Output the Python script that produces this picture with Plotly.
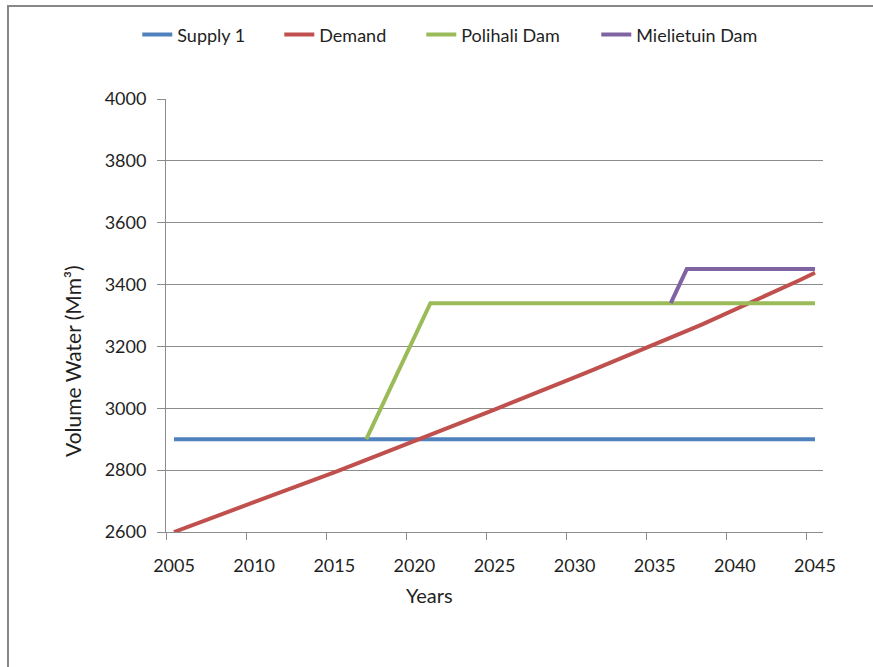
import plotly.graph_objects as go

# Years on the horizontal axis
years = list(range(2005, 2046))

# Existing supply (Mm³), constant over the period
supply_years = [2005, 2045]
supply_values = [2900, 2900]

# Projected water demand per year (Mm³)
demand_values = [
    2600, 2619, 2638, 2657, 2676, 2695, 2715, 2734, 2754, 2773,
    2793, 2813, 2833, 2853, 2873, 2893, 2913, 2934, 2954, 2975,
    2996, 3017, 3037, 3058, 3079, 3100, 3121, 3142, 3163, 3184,
    3206, 3228, 3250, 3272, 3295, 3318, 3341, 3365, 3389, 3413,
    3438,
]

# Supply after Polihali Dam comes online
polihali_years = [2017, 2021, 2045]
polihali_values = [2900, 3340, 3340]

# Supply after Mielietuin Dam comes online
mielietuin_years = [2036, 2037, 2045]
mielietuin_values = [3340, 3450, 3450]

x_ticks = [2005, 2010, 2015, 2020, 2025, 2030, 2035, 2040, 2045]
y_ticks = [2600, 2800, 3000, 3200, 3400, 3600, 3800, 4000]

FONT = "Lato"
TEXT = "#1f1f1f"
GRID = "#8c8c8c"

fig = go.Figure()
fig.add_trace(go.Scatter(x=supply_years, y=supply_values, mode="lines",
                         name="Supply 1", legendwidth=97,
                         line=dict(color="#4F81BD", width=4)))
fig.add_trace(go.Scatter(x=years, y=demand_values, mode="lines",
                         name="Demand", legendwidth=97,
                         line=dict(color="#C0504D", width=4)))
fig.add_trace(go.Scatter(x=polihali_years, y=polihali_values, mode="lines",
                         name="Polihali Dam", legendwidth=130,
                         line=dict(color="#9BBB59", width=4)))
fig.add_trace(go.Scatter(x=mielietuin_years, y=mielietuin_values, mode="lines",
                         name="Mielietuin Dam", legendwidth=130,
                         line=dict(color="#8064A2", width=4)))

fig.update_layout(
    width=873, height=667,
    margin=dict(l=166, r=50, t=99, b=135),
    paper_bgcolor="white", plot_bgcolor="white",
    font=dict(family=FONT, size=18, color=TEXT),
    showlegend=True,
    legend=dict(orientation="h", x=-0.0437, xanchor="left", y=1.148, yanchor="middle",
                font=dict(family=FONT, size=18, color=TEXT),
                bgcolor="rgba(0,0,0,0)"),
    xaxis=dict(
        range=[2004.5, 2045.5], tickmode="array", tickvals=x_ticks,
        ticktext=[str(v) for v in x_ticks], ticks="", showgrid=False,
        showline=True, linecolor=GRID, linewidth=1, zeroline=False,
        ticklabelstandoff=17,
        minor=dict(tickmode="array", tickvals=[v - 0.5 for v in x_ticks],
                   ticks="outside", ticklen=7, tickcolor=GRID, tickwidth=1,
                   showgrid=False),
    ),
    yaxis=dict(
        range=[2600, 4000], tickmode="array", tickvals=y_ticks,
        ticks="outside", ticklen=8, tickcolor=GRID, tickwidth=1,
        showgrid=True, gridcolor=GRID, gridwidth=1,
        showline=True, linecolor=GRID, linewidth=1, zeroline=False,
        ticklabelstandoff=7,
    ),
    annotations=[
        dict(text="Years", xref="paper", yref="paper", x=0.4018, y=-0.146,
             xanchor="center", yanchor="middle", showarrow=False,
             font=dict(family=FONT, size=20, color=TEXT)),
        dict(text="Volume Water (Mm³)", xref="paper", yref="paper", x=-0.1416, y=0.395,
             xanchor="center", yanchor="middle", showarrow=False, textangle=-90,
             font=dict(family=FONT, size=21, color=TEXT)),
    ],
    shapes=[
        dict(type="rect", xref="paper", yref="paper", x0=-0.2405, x1=1.3,
             y0=-0.5, y1=1.2148, line=dict(color="#878787", width=2),
             fillcolor="rgba(0,0,0,0)", layer="above"),
    ],
)

fig.write_html("out.html")
